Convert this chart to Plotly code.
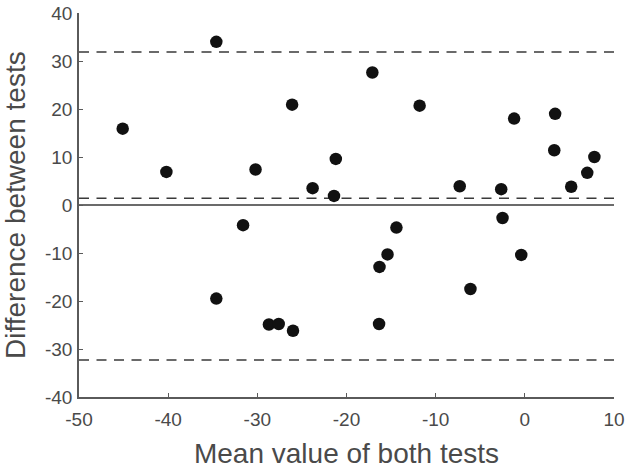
import plotly.graph_objects as go

# Data (Bland-Altman plot)
mean_values = [-45.1, -40.2, -34.6, -30.2, -26.1, -23.8, -31.6, -21.2, -21.4, -17.1,
               -11.8, -14.4, -7.3, -2.65, -2.5, -1.2, 3.4, 3.3, 5.2, 7.0,
               7.8, -34.6, -28.7, -27.6, -26.0, -15.4, -16.3, -16.35, -6.1, -0.4]
differences = [15.9, 6.9, 34.0, 7.4, 20.9, 3.5, -4.2, 9.6, 1.9, 27.6,
               20.7, -4.7, 3.9, 3.3, -2.7, 18.0, 19.0, 11.4, 3.8, 6.7,
               10.0, -19.5, -24.9, -24.8, -26.2, -10.3, -12.9, -24.8, -17.5, -10.4]

mean_diff = 1.4
upper_loa = 31.9
lower_loa = -32.3
zero_ref = 0

x_range = [-50, 10]
y_range = [-40, 40]
x_ticks = [-50, -40, -30, -20, -10, 0, 10]
x_tick_labels = ["-50", "-40", "-30", "-20", "-10", "0", "10"]
y_ticks = [-40, -30, -20, -10, 0, 10, 20, 30, 40]
y_tick_labels = ["-40", "-30", "-20", "-10", "0", "10", "20", "30", "40"]

x_title = "Mean value of both tests"
y_title = "Difference between tests"

line_color = "#3a3a3a"
axis_color = "#5a5a5a"
text_color = "#4a4a4a"

fig = go.Figure()

for yv in [upper_loa, mean_diff, lower_loa]:
    fig.add_trace(go.Scatter(x=x_range, y=[yv, yv], mode="lines",
                             line=dict(color=line_color, width=1.5, dash="10px,7.5px"),
                             hoverinfo="skip", showlegend=False))
fig.add_trace(go.Scatter(x=x_range, y=[zero_ref, zero_ref], mode="lines",
                         line=dict(color=line_color, width=1.5),
                         hoverinfo="skip", showlegend=False))

fig.add_trace(go.Scatter(x=mean_values, y=differences, mode="markers",
                         marker=dict(color="#111111", size=12.5, line=dict(width=0)),
                         showlegend=False))

font_family = "Arial, Liberation Sans, sans-serif"

fig.add_annotation(text=y_title, xref="paper", yref="paper", x=0, y=0.5,
                   xanchor="center", yanchor="middle", xshift=-64, textangle=-90,
                   showarrow=False, font=dict(size=28, color=text_color, family=font_family))

fig.update_layout(
    width=630, height=469,
    margin=dict(l=78.5, r=15.7, t=12.5, b=72.3),
    paper_bgcolor="white", plot_bgcolor="white",
    font=dict(family=font_family, color=text_color, size=19),
    xaxis=dict(range=x_range, tickvals=x_ticks, ticktext=x_tick_labels,
               ticks="inside", ticklen=4, automargin=False,
               tickcolor=axis_color, showline=True, linecolor=axis_color, linewidth=1.5,
               showgrid=False, zeroline=False, tickfont=dict(size=19, color=text_color),
               ticklabelstandoff=4,
               title=dict(text=x_title, font=dict(size=28, color=text_color),
                          standoff=16)),
    yaxis=dict(range=y_range, tickvals=y_ticks, ticktext=y_tick_labels,
               ticks="inside", ticklen=4, automargin=False,
               tickcolor=axis_color, showline=True, linecolor=axis_color, linewidth=1.5,
               showgrid=False, zeroline=False, tickfont=dict(size=19, color=text_color),
               ticklabelstandoff=1),
)

fig.write_html("out.html", config={"displayModeBar": False},
               post_script="document.body.style.margin='0';document.body.style.overflow='hidden';")
